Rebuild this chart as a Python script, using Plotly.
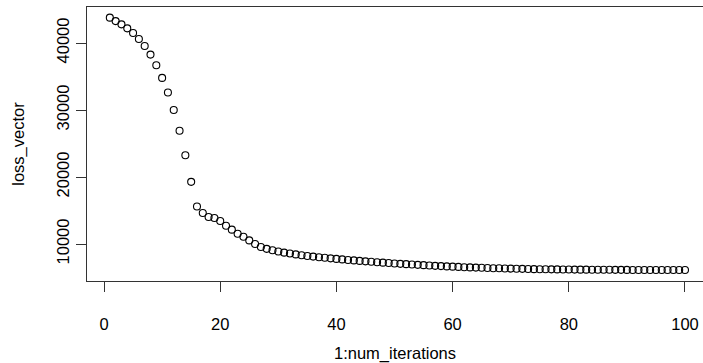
import plotly.graph_objects as go

num_iterations = 100
iterations = list(range(1, num_iterations + 1))
loss_vector = [
    43780, 43270, 42780, 42190, 41490, 40600, 39550, 38270, 36680, 34790,
    32620, 29990, 26910, 23250, 19280, 15600, 14620, 14030, 13880, 13430,
    12730, 12140, 11540, 11090, 10540, 10010, 9550, 9280, 9070, 8880,
    8720, 8580, 8450, 8330, 8220, 8120, 8030, 7940, 7860, 7780,
    7700, 7620, 7550, 7480, 7410, 7340, 7280, 7220, 7160, 7100,
    7040, 6990, 6940, 6890, 6840, 6790, 6740, 6700, 6660, 6620,
    6580, 6540, 6510, 6480, 6450, 6420, 6390, 6370, 6350, 6330,
    6310, 6290, 6270, 6250, 6240, 6230, 6220, 6210, 6200, 6190,
    6180, 6175, 6170, 6165, 6160, 6155, 6150, 6145, 6140, 6135,
    6130, 6128, 6126, 6124, 6122, 6120, 6118, 6116, 6114, 6112,
]
x_ticks = [0, 20, 40, 60, 80, 100]
y_ticks = [10000, 20000, 30000, 40000]

FONT = "Liberation Sans, Arial, Helvetica, sans-serif"

fig = go.Figure()
fig.add_trace(go.Scatter(
    x=iterations, y=loss_vector, mode="markers",
    marker=dict(symbol="circle-open", size=7, color="black", line=dict(width=1.1, color="black")),
    showlegend=False, hoverinfo="x+y",
))

fig.update_layout(
    width=703, height=363, autosize=False,
    margin=dict(l=87, r=0, t=7, b=82),
    paper_bgcolor="white", plot_bgcolor="white",
    font=dict(family=FONT, size=16.5, color="black"),
    xaxis=dict(
        range=[-2.93, 103.1], tickvals=x_ticks, ticktext=[str(v) for v in x_ticks],
        showgrid=False, zeroline=False, showline=True, linecolor="#333", linewidth=1,
        mirror=True, ticks="outside", ticklen=10, tickwidth=1, tickcolor="#333",
        ticklabelstandoff=18, automargin=False,
        title=dict(text="1:num_iterations", standoff=35, font=dict(size=16.5)),
    ),
    yaxis=dict(
        range=[4478, 45373], tickvals=y_ticks, ticktext=[str(v) for v in y_ticks],
        tickangle=-90,
        showgrid=False, zeroline=False, showline=True, linecolor="#333", linewidth=1,
        ticks="outside", ticklen=10, tickwidth=1, tickcolor="#333",
        ticklabelstandoff=0, automargin=False,
        title=dict(text="loss_vector", standoff=25, font=dict(size=16.5)),
    ),
)

fig.write_html(
    "out.html",
    config={"displayModeBar": False},
    post_script="document.body.style.margin='0';document.body.style.overflow='hidden';",
)
